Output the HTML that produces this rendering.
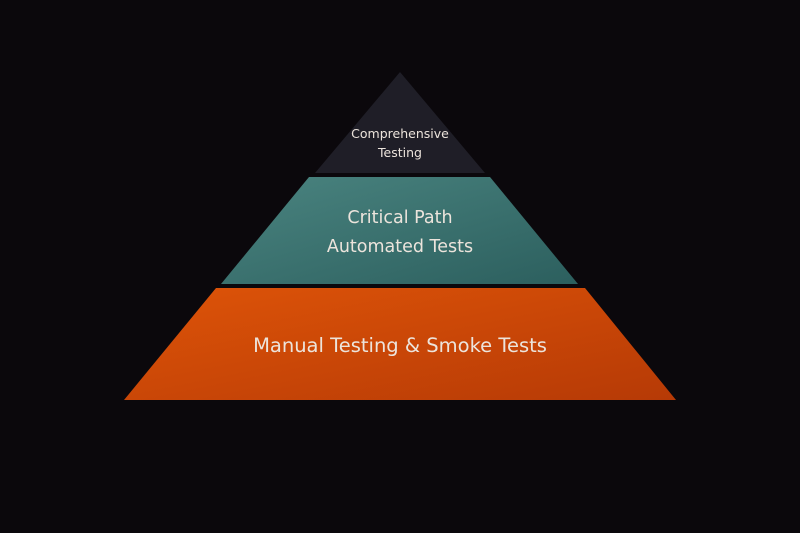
<!DOCTYPE html>
<html><head><meta charset="utf-8"><style>
html,body{margin:0;padding:0;background:#0b080c;}
svg{display:block}
text{font-family:"DejaVu Sans","Liberation Sans",sans-serif;fill:#ece4dc;text-anchor:middle}
</style></head><body>
<svg width="800" height="533" viewBox="0 0 800 533">
<defs>
<linearGradient id="g1" x1="0" y1="0" x2="1" y2="1">
<stop offset="0" stop-color="#4a8480"/><stop offset="1" stop-color="#2c5f5e"/></linearGradient>
<linearGradient id="g2" x1="0" y1="0" x2="1" y2="1">
<stop offset="0" stop-color="#de5408"/><stop offset="1" stop-color="#b63a06"/></linearGradient>
</defs>
<rect width="800" height="533" fill="#0b080c"/>
<polygon points="400,72 485,173 315,173" fill="#1f1e27"/>
<polygon points="309,177 490,177 578,284 221,284" fill="url(#g1)"/>
<polygon points="216,288 585,288 676,400 124,400" fill="url(#g2)"/>
<text x="400" y="138" font-size="12.5">Comprehensive</text>
<text x="400" y="157" font-size="12.5">Testing</text>
<text x="400" y="223" font-size="17.5">Critical Path</text>
<text x="400" y="252" font-size="17.5">Automated Tests</text>
<text x="400" y="352" font-size="19.5">Manual Testing &amp; Smoke Tests</text>
</svg>
</body></html>
